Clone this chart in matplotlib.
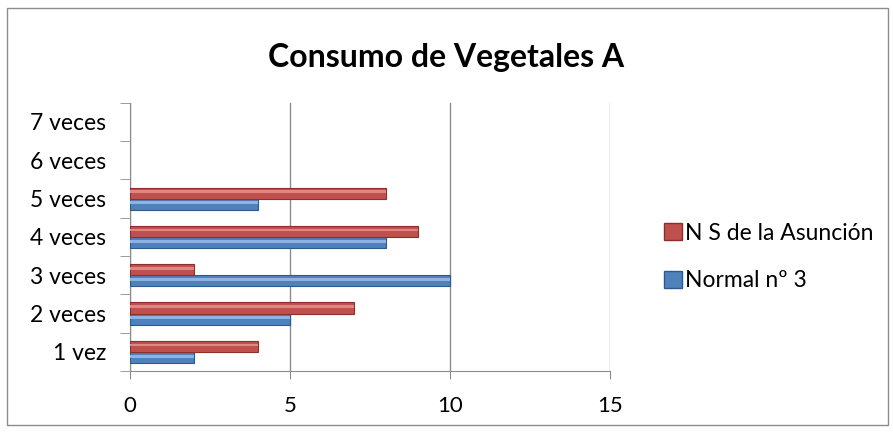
import matplotlib.pyplot as plt
import numpy as np
from matplotlib.patches import Patch, Rectangle

categories = ["1 vez", "2 veces", "3 veces", "4 veces", "5 veces", "6 veces", "7 veces"]
normal_n3 = [2, 5, 10, 8, 4, 0, 0]
ns_asuncion = [4, 7, 2, 9, 8, 0, 0]
xticks = [0, 5, 10, 15]

plt.rcParams['font.family'] = ['Lato', 'DejaVu Sans']

fig = plt.figure(figsize=(8.93, 4.32), dpi=100)
fig.patches.append(Rectangle((0.008, 0.016), 0.986, 0.966, transform=fig.transFigure,
                             fill=False, edgecolor='#8c8c8c', linewidth=1.0))

ax = fig.add_axes([0.1456, 0.141, 0.5375, 0.621])

y = np.arange(len(categories))
h = 0.29
blue, blue_edge = '#4f81bd', '#2c5a8f'
red, red_edge = '#c0504d', '#8c2f2c'


def draw_series(vals, offset, face, edge, light):
    edges = [edge if v > 0 else 'none' for v in vals]
    ax.barh(y + offset, vals, height=h, color=face, edgecolor=edges, linewidth=0.8, zorder=3)
    # lighter stripe along the upper part of each bar
    ax.barh(y + offset + h * 0.12, vals, height=h * 0.25, color=light, linewidth=0, zorder=4)


draw_series(normal_n3, -h / 2, blue, blue_edge, '#8db3e2')
draw_series(ns_asuncion, h / 2, red, red_edge, '#e08683')

ax.set_xlim(0, 15)
ax.set_ylim(-0.5, len(categories) - 0.5)
ax.set_xticks(xticks)
ax.set_xticklabels([str(t) for t in xticks], fontsize=16)
ax.set_yticks(y)
ax.set_yticklabels(categories, fontsize=16.5)
ax.set_yticks(np.arange(-0.5, len(categories)), minor=True)
ax.tick_params(axis='y', which='major', length=0, pad=17)
ax.tick_params(axis='y', which='minor', length=7, color='#8c8c8c', direction='out')
ax.tick_params(axis='x', length=6, color='#8c8c8c', direction='out', pad=12)

ax.grid(axis='x', color='#8c8c8c', linewidth=1.0, zorder=0)
for side in ['top', 'right']:
    ax.spines[side].set_visible(False)
ax.spines['left'].set_color('#8c8c8c')
ax.spines['bottom'].set_color('#8c8c8c')

fig.text(0.5, 0.868, "Consumo de Vegetales A", ha='center', va='center',
         fontsize=23, fontweight='bold')

handles = [Patch(facecolor=red, edgecolor=red_edge), Patch(facecolor=blue, edgecolor=blue_edge)]
fig.legend(handles, ["N S de la Asunción", "Normal nº 3"], loc='center left',
           bbox_to_anchor=(0.721, 0.405), frameon=False, fontsize=16.5,
           handlelength=0.75, handleheight=0.75, handletextpad=0.15, labelspacing=1.15)

fig.savefig("out.png", dpi=100)
